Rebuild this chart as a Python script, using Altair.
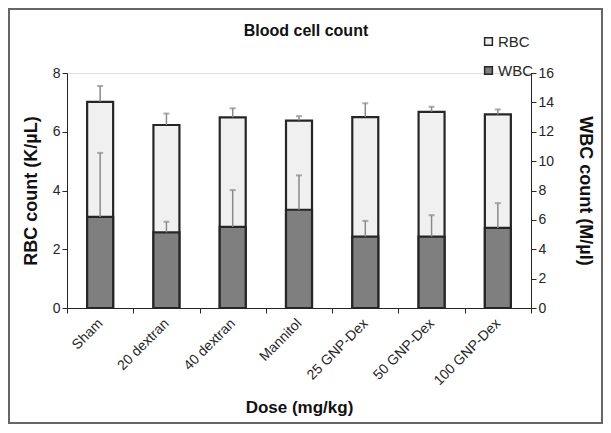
import altair as alt
import pandas as pd

categories = ["Sham", "20 dextran", "40 dextran", "Mannitol", "25 GNP-Dex", "50 GNP-Dex", "100 GNP-Dex"]
rbc = [7.02, 6.23, 6.49, 6.38, 6.50, 6.68, 6.59]
rbc_err = [0.54, 0.39, 0.31, 0.15, 0.47, 0.17, 0.17]
wbc = [6.20, 5.15, 5.52, 6.69, 4.86, 4.86, 5.45]
wbc_err = [4.36, 0.72, 2.51, 2.34, 1.07, 1.46, 1.69]

df = pd.DataFrame({
    "dose": categories,
    "rbc": rbc,
    "rbc_hi": [v + e for v, e in zip(rbc, rbc_err)],
    "wbc": wbc,
    "wbc_hi": [v + e for v, e in zip(wbc, wbc_err)],
})

FONT = "Liberation Sans"
AX = "#262626"
ERR = "#8a8a8a"

x = alt.X("dose:N", sort=categories, title="Dose (mg/kg)",
          scale=alt.Scale(paddingInner=0, paddingOuter=0),
          axis=alt.Axis(labelAngle=-45, labelAlign="right", labelBaseline="middle",
                        tickBand="extent", labelFontSize=14, labelPadding=8,
                        titleFontSize=17, titleFontWeight="bold", titlePadding=12,
                        domainColor=AX, tickColor=AX, labelColor=AX, titleColor="#111",
                        tickSize=5, labelFont=FONT, titleFont=FONT))

left_axis = alt.Axis(values=[0, 2, 4, 6, 8], grid=False, orient="left",
                     labelFontSize=14, titleFontSize=18, titleFontWeight="bold",
                     titlePadding=12, domainColor=AX, tickColor=AX, labelColor=AX,
                     titleColor="#111", tickSize=5, labelFont=FONT, titleFont=FONT)
right_axis = alt.Axis(values=list(range(0, 17, 2)), grid=False, orient="right",
                      labelFontSize=14, titleFontSize=18, titleFontWeight="bold",
                      titlePadding=22, domainColor=AX, tickColor=AX, labelColor=AX,
                      titleColor="#111", tickSize=5, labelFont=FONT, titleFont=FONT)

ly = alt.Scale(domain=[0, 8], nice=False)
ry = alt.Scale(domain=[0, 16], nice=False)

color = alt.Color("series:N", scale=alt.Scale(domain=["RBC", "WBC"], range=["#f0f0f0", "#7f7f7f"]),
                  legend=alt.Legend(title=None, orient="none", legendX=414, legendY=-39,
                                    symbolType="square", symbolSize=60,
                                    symbolStrokeColor=AX, symbolStrokeWidth=1.5,
                                    labelFontSize=15, labelFont=FONT, labelColor=AX,
                                    rowPadding=13, labelOffset=2))

base = alt.Chart(df)

rbc_bar = base.transform_calculate(series="'RBC'").mark_bar(
    size=26, stroke=AX, strokeWidth=2.2).encode(
    x=x, y=alt.Y("rbc:Q", scale=ly, axis=left_axis, title="RBC count (K/µL)"), fill=color)
rbc_rule = base.mark_rule(color=ERR, strokeWidth=1.5).encode(
    x=x, y=alt.Y("rbc:Q", scale=ly, axis=left_axis, title="RBC count (K/µL)"), y2="rbc_hi:Q")
rbc_cap = base.mark_tick(color=ERR, size=6, thickness=2).encode(
    x=x, y=alt.Y("rbc_hi:Q", scale=ly, axis=left_axis, title="RBC count (K/µL)"))

wbc_bar = base.transform_calculate(series="'WBC'").mark_bar(
    size=26, stroke=AX, strokeWidth=2.2).encode(
    x=x, y=alt.Y("wbc:Q", scale=ry, axis=right_axis, title="WBC count (M/µl)"), fill=color)
wbc_rule = base.mark_rule(color=ERR, strokeWidth=1.5).encode(
    x=x, y=alt.Y("wbc:Q", scale=ry, axis=right_axis, title="WBC count (M/µl)"), y2="wbc_hi:Q")
wbc_cap = base.mark_tick(color=ERR, size=6, thickness=2).encode(
    x=x, y=alt.Y("wbc_hi:Q", scale=ry, axis=right_axis, title="WBC count (M/µl)"))

frame = alt.Chart(pd.DataFrame({"k": [0]})).mark_rect(
    fill=None, stroke="#666666", strokeWidth=2).encode(
    x=alt.value(-58), x2=alt.value(535), y=alt.value(-64), y2=alt.value(350))

left = alt.layer(rbc_bar, rbc_rule, rbc_cap)
right = alt.layer(wbc_bar, wbc_rule, wbc_cap)

chart = alt.layer(left, right, frame).resolve_scale(y="independent").properties(
    width=464, height=235,
    title=alt.TitleParams("Blood cell count", fontSize=16, fontWeight="bold", font=FONT,
                          color="#111", anchor="middle", frame="group", offset=-31, dx=7),
    autosize=alt.AutoSizeParams(type="none"),
    padding={"left": 59, "top": 65, "right": 72, "bottom": 118},
).configure_view(stroke=None).configure(background="white")

chart.save("out.html", embed_options={"renderer": "svg", "actions": False})
